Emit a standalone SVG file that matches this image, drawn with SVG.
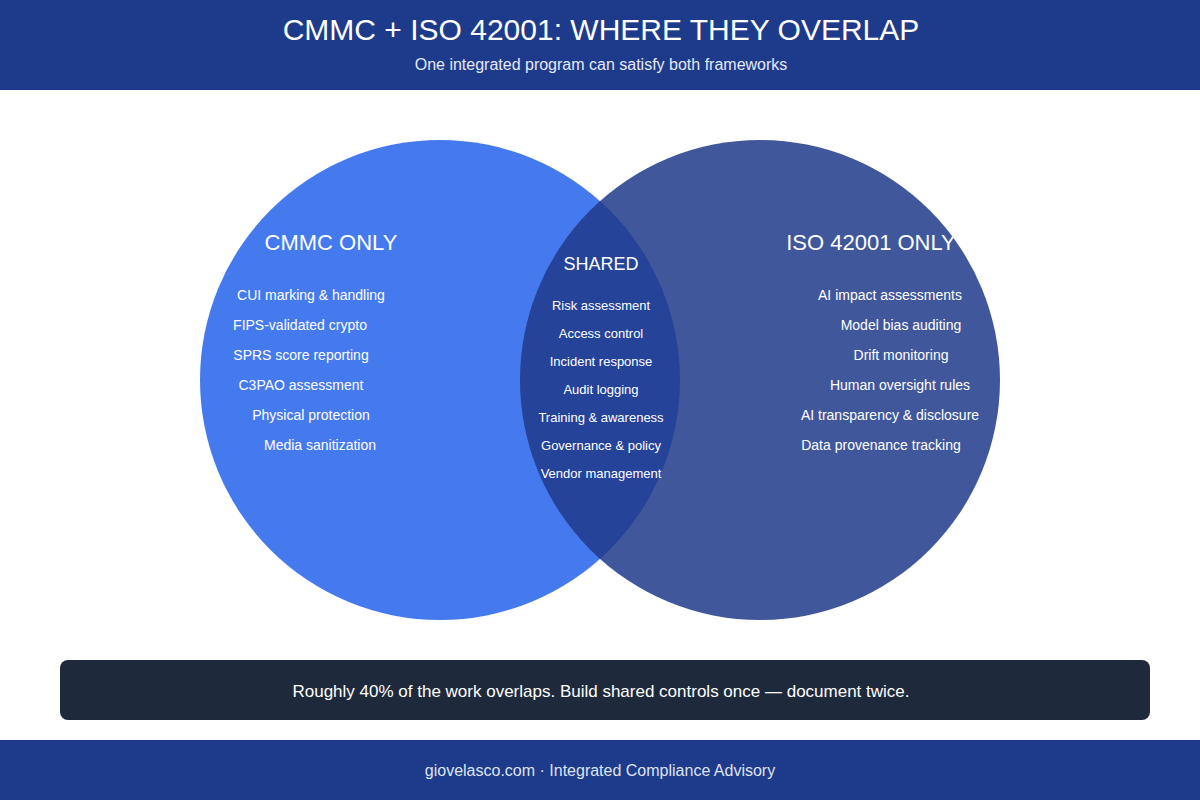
<svg xmlns="http://www.w3.org/2000/svg" width="1200" height="800" viewBox="0 0 1200 800">
<style>
text{font-family:"Liberation Sans",Arial,sans-serif;fill:#fff}
.h{font-size:22px;text-anchor:middle}
.it{font-size:14px;text-anchor:middle}
.sh{font-size:13px;text-anchor:middle}
</style>
<rect width="1200" height="800" fill="#fff"/>
<g id="header">
<rect x="0" y="0" width="1200" height="90" fill="#1e3a8a"/>
<text x="601" y="40" font-size="30" text-anchor="middle">CMMC + ISO 42001: WHERE THEY OVERLAP</text>
<text x="601" y="70" font-size="16" text-anchor="middle" style="fill:#e5e9f5">One integrated program can satisfy both frameworks</text>
</g>
<g id="cmmc">
<circle cx="440" cy="380" r="240" fill="#2563eb" fill-opacity="0.85"/>
</g>
<g id="iso">
<circle cx="760" cy="380" r="240" fill="#1e3a8a" fill-opacity="0.85"/>
</g>
<g id="cmmc-text">
<text class="h" x="331" y="250">CMMC ONLY</text>
<text class="it" x="311" y="300">CUI marking &amp; handling</text>
<text class="it" x="300" y="330">FIPS-validated crypto</text>
<text class="it" x="301" y="360">SPRS score reporting</text>
<text class="it" x="301" y="390">C3PAO assessment</text>
<text class="it" x="311" y="420">Physical protection</text>
<text class="it" x="320" y="450">Media sanitization</text>
</g>
<g id="shared">
<text x="601" y="270" font-size="18" text-anchor="middle">SHARED</text>
<text class="sh" x="601" y="310">Risk assessment</text>
<text class="sh" x="601" y="338">Access control</text>
<text class="sh" x="601" y="366">Incident response</text>
<text class="sh" x="601" y="394">Audit logging</text>
<text class="sh" x="601" y="422">Training &amp; awareness</text>
<text class="sh" x="601" y="450">Governance &amp; policy</text>
<text class="sh" x="601" y="478">Vendor management</text>
</g>
<g id="iso-text">
<text class="h" x="871" y="250">ISO 42001 ONLY</text>
<text class="it" x="890" y="300">AI impact assessments</text>
<text class="it" x="901" y="330">Model bias auditing</text>
<text class="it" x="901" y="360">Drift monitoring</text>
<text class="it" x="900" y="390">Human oversight rules</text>
<text class="it" x="890" y="420">AI transparency &amp; disclosure</text>
<text class="it" x="881" y="450">Data provenance tracking</text>
</g>
<g id="callout">
<rect x="60" y="660" width="1090" height="60" rx="8" fill="#1e293b"/>
<text x="601" y="697" font-size="17" text-anchor="middle">Roughly 40% of the work overlaps. Build shared controls once — document twice.</text>
</g>
<g id="footer">
<rect x="0" y="740" width="1200" height="60" fill="#1e3a8a"/>
<text x="600" y="776" font-size="16" text-anchor="middle" style="fill:#dfe4f0">giovelasco.com · Integrated Compliance Advisory</text>
</g>
<g id="connectors"/>
</svg>
